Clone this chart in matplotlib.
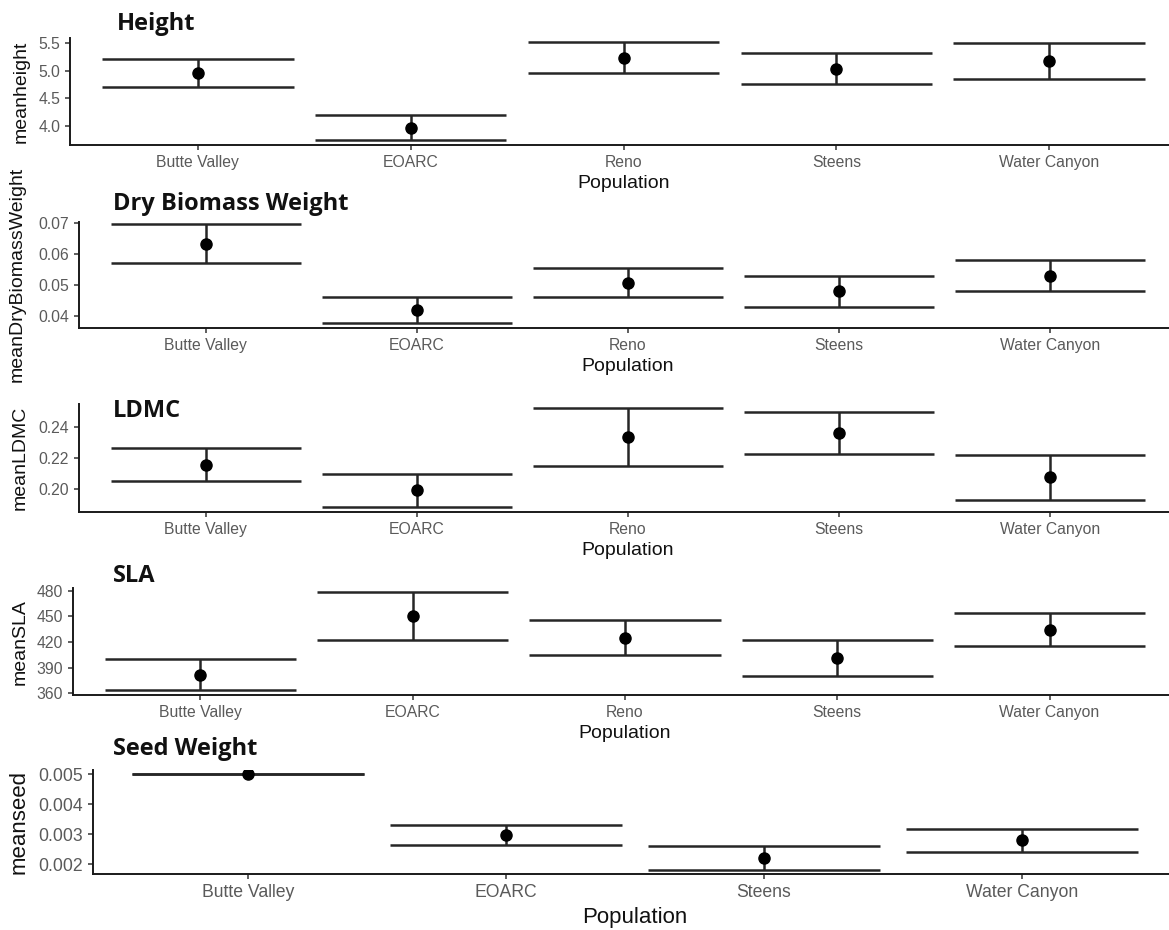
import matplotlib.pyplot as plt
import numpy as np

# population means with standard errors for each trait
populations = ["Butte Valley", "EOARC", "Reno", "Steens", "Water Canyon"]
seed_populations = ["Butte Valley", "EOARC", "Steens", "Water Canyon"]

height_mean = [4.96, 3.97, 5.235, 5.03, 5.175]
height_se = [0.25, 0.228, 0.285, 0.28, 0.325]

drymass_mean = [0.0633, 0.0419, 0.0508, 0.04795, 0.0531]
drymass_se = [0.0063, 0.0042, 0.0048, 0.00505, 0.0050]

ldmc_mean = [0.2157, 0.1994, 0.2333, 0.2359, 0.2076]
ldmc_se = [0.0104, 0.0105, 0.0186, 0.0133, 0.0144]

sla_mean = [381.8, 450.5, 425.0, 401.0, 434.6]
sla_se = [17.9, 28.3, 20.6, 21.0, 19.3]

seed_mean = [0.0050, 0.00298, 0.00221, 0.0028]
seed_se = [0.0, 0.00034, 0.0004, 0.00039]

W, H = 1169, 930
fig = plt.figure(figsize=(W / 100, H / 100), dpi=100)
plt.rcParams['font.family'] = ['Liberation Sans', 'DejaVu Sans']

RIGHT = 1177


def panel(left, top, bottom, names, mean, se, ylim, yticks, fmt, ylabel, ylab_x,
          title, title_xy, tick_fs=11.3, lab_fs=14):
    ax = fig.add_axes([left / W, 1 - bottom / H, (RIGHT - left) / W, (bottom - top) / H])
    x = np.arange(1, len(names) + 1)
    mean = np.array(mean)
    se = np.array(se)
    lo, hi = mean - se, mean + se
    ax.hlines(hi, x - 0.45, x + 0.45, color='#262626', lw=1.8, zorder=2)
    ax.hlines(lo, x - 0.45, x + 0.45, color='#262626', lw=1.8, zorder=2)
    ax.vlines(x, lo, hi, color='#262626', lw=1.8, zorder=2)
    ax.plot(x, mean, 'o', color='black', ms=8, zorder=3)

    ax.set_xlim(0.4, len(names) + 0.6)
    ax.set_ylim(*ylim)
    ax.set_xticks(x)
    ax.set_xticklabels(names)
    ax.set_yticks(yticks)
    ax.set_yticklabels([fmt % v for v in yticks])
    for s in ['top', 'right']:
        ax.spines[s].set_visible(False)
    for s in ['left', 'bottom']:
        ax.spines[s].set_linewidth(1.4)
        ax.spines[s].set_color('#1a1a1a')
    ax.tick_params(direction='out', length=3.6, width=1.1, color='#333333',
                   pad=3.5, labelsize=tick_fs, labelcolor='#5a5a5a')
    ax.set_xlabel("Population", fontsize=lab_fs, color='#111111', labelpad=4)

    fig.text(ylab_x / W, 1 - (top + bottom) / 2 / H, ylabel, rotation=90,
             ha='center', va='center', fontsize=lab_fs, color='#111111')
    fig.text(title_xy[0] / W, 1 - title_xy[1] / H, title, ha='left', va='baseline',
             fontsize=17, fontweight='bold', family=['Open Sans', 'DejaVu Sans'],
             color='#111111')
    return ax


panel(70, 38, 145, populations, height_mean, height_se, (3.655, 5.59),
      [4.0, 4.5, 5.0, 5.5], "%.1f", "meanheight", 21, "Height", (117, 30))

panel(79, 221.7, 327.7, populations, drymass_mean, drymass_se, (0.03623, 0.0705),
      [0.04, 0.05, 0.06, 0.07], "%.2f", "meanDryBiomassWeight", 17,
      "Dry Biomass Weight", (113, 210))

panel(79, 404, 511.7, populations, ldmc_mean, ldmc_se, (0.1857, 0.2545),
      [0.20, 0.22, 0.24], "%.2f", "meanLDMC", 20, "LDMC", (113, 417))

panel(73, 588.3, 695, populations, sla_mean, sla_se, (358.0, 482.8),
      [360, 390, 420, 450, 480], "%d", "meanSLA", 20, "SLA", (113, 582))

panel(93, 770, 874.3, seed_populations, seed_mean, seed_se, (0.001667, 0.005143),
      [0.002, 0.003, 0.004, 0.005], "%.3f", "meanseed", 19, "Seed Weight", (113, 755),
      tick_fs=12.7, lab_fs=16)

fig.savefig("out.png", dpi=100)
